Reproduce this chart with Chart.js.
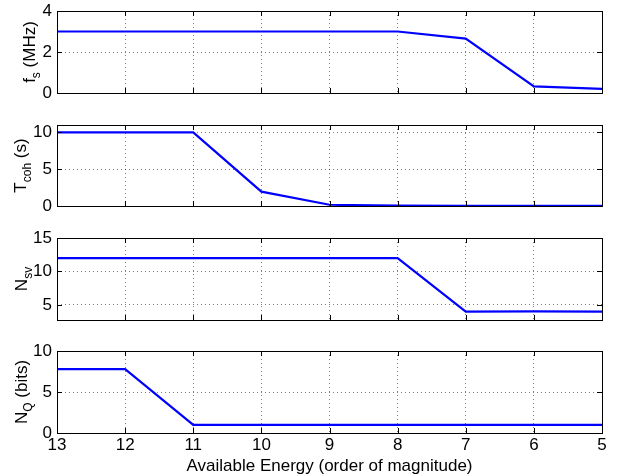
<!doctype html>
<html lang="en">
<head>
  <meta charset="utf-8">
  <title>Available Energy</title>
  <style>
    * {
      margin: 0;
      padding: 0;
    }
    body {
      background: white;
      width: 617px;
      height: 476px;
      position: relative;
      overflow: hidden;
    }
    .panel {
      position: absolute;
      left: 0;
      width: 617px;
    }
  </style>
</head>
<body>
  <div class="panel" style="top:-4px;height:112px"><canvas id="c1"></canvas></div>
  <div class="panel" style="top:110px;height:111px"><canvas id="c2"></canvas></div>
  <div class="panel" style="top:223px;height:112px"><canvas id="c3"></canvas></div>
  <div class="panel" style="top:336px;height:140px"><canvas id="c4"></canvas></div>

  <script src="https://cdn.jsdelivr.net/npm/chart.js"></script>
  <script>
    // data
    const energy = [13, 12, 11, 10, 9, 8, 7, 6, 5];
    const xTicks = [13, 12, 11, 10, 9, 8, 7, 6, 5];

    const fs = [3, 3, 3, 3, 3, 3, 2.65, 0.32, 0.2];
    const tcoh = [10, 10, 10, 1.95, 0.17, 0.05, 0.03, 0.02, 0.02];
    const nsv = [12, 12, 12, 12, 12, 12, 4, 4.05, 4];
    const nq = [7.8, 7.8, 1, 1, 1, 1, 1, 1, 1];

    const fsTicks = [0, 2, 4];
    const tcohTicks = [0, 5, 10];
    const nsvTicks = [5, 10, 15];
    const nqTicks = [0, 5, 10];

    const FONT = "'Liberation Sans', Arial, Helvetica, sans-serif";

    // y label pieces: [text, isSubscript]
    const panels = [
      { id: 'c1', values: fs, ticks: fsTicks, min: 0, max: 4, labelX: 35,
        label: [['f', false], ['s', true], [' (MHz)', false]] },
      { id: 'c2', values: tcoh, ticks: tcohTicks, min: 0, max: 11, labelX: 26,
        label: [['T', false], ['coh', true], [' (s)', false]] },
      { id: 'c3', values: nsv, ticks: nsvTicks, min: 2.75, max: 15, labelX: 27,
        label: [['N', false], ['sv', true]] },
      { id: 'c4', values: nq, ticks: nqTicks, min: 0, max: 10, labelX: 27,
        label: [['N', false], ['Q', true], [' (bits)', false]], last: true }
    ];

    // box around the axes, inward tick marks, rotated y label with subscript
    const matlabAxes = {
      id: 'matlabAxes',
      afterDraw(chart, args, opts) {
        const ctx = chart.ctx;
        const a = chart.chartArea;
        const x = chart.scales.x;
        const y = chart.scales.y;
        ctx.save();
        ctx.strokeStyle = 'black';
        ctx.lineWidth = 1;
        ctx.beginPath();
        x.ticks.forEach(t => {
          const px = Math.round(x.getPixelForValue(t.value)) + 0.5;
          ctx.moveTo(px, a.bottom); ctx.lineTo(px, a.bottom - 5);
          ctx.moveTo(px, a.top); ctx.lineTo(px, a.top + 5);
        });
        y.ticks.forEach(t => {
          const py = Math.round(y.getPixelForValue(t.value)) + 0.5;
          ctx.moveTo(a.left, py); ctx.lineTo(a.left + 5, py);
          ctx.moveTo(a.right, py); ctx.lineTo(a.right - 5, py);
        });
        ctx.stroke();
        ctx.strokeRect(Math.round(a.left) + 0.5, Math.round(a.top) + 0.5,
          Math.round(a.right - a.left), Math.round(a.bottom - a.top));

        // y label
        const big = '17px ' + FONT;
        const small = '12px ' + FONT;
        let total = 0;
        opts.label.forEach(p => {
          ctx.font = p[1] ? small : big;
          total += ctx.measureText(p[0]).width;
        });
        ctx.translate(opts.labelX, (a.top + a.bottom) / 2);
        ctx.rotate(-Math.PI / 2);
        ctx.fillStyle = 'black';
        ctx.textBaseline = 'alphabetic';
        let cx = -total / 2;
        opts.label.forEach(p => {
          ctx.font = p[1] ? small : big;
          ctx.fillText(p[0], cx, p[1] ? 5 : 0);
          cx += ctx.measureText(p[0]).width;
        });
        ctx.restore();
      }
    };

    panels.forEach(p => {
      const gridStyle = {
        display: true,
        color: 'rgba(0,0,0,0.5)',
        drawTicks: false,
        lineWidth: 1
      };
      new Chart(document.getElementById(p.id), {
        type: 'line',
        data: {
          datasets: [{
            data: energy.map((e, i) => ({ x: e, y: p.values[i] })),
            borderColor: '#0000ff',
            borderWidth: 2.2,
            pointRadius: 0,
            tension: 0,
            fill: false
          }]
        },
        options: {
          responsive: true,
          maintainAspectRatio: false,
          animation: false,
          devicePixelRatio: 1,
          layout: { padding: { top: 0, right: 15, bottom: 0, left: 0 } },
          scales: {
            x: {
              type: 'linear',
              min: 5,
              max: 13,
              reverse: true,
              afterBuildTicks: s => { s.ticks = xTicks.map(v => ({ value: v })); },
              afterFit: s => { s.height = p.last ? 43 : 0; },
              grid: gridStyle,
              border: { display: false, dash: [1, 3] },
              ticks: {
                display: !!p.last,
                color: 'black',
                padding: 2,
                maxRotation: 0,
                font: { family: FONT, size: 17, lineHeight: '20px' }
              },
              title: {
                display: !!p.last,
                text: 'Available Energy (order of magnitude)',
                color: 'black',
                padding: { top: 0, bottom: 0 },
                font: { family: FONT, size: 17, lineHeight: '20px' }
              }
            },
            y: {
              min: p.min,
              max: p.max,
              afterBuildTicks: s => { s.ticks = p.ticks.map(v => ({ value: v })); },
              afterFit: s => { s.width = 57; },
              grid: gridStyle,
              border: { display: false, dash: [1, 3] },
              ticks: {
                color: 'black',
                padding: 5,
                font: { family: FONT, size: 17, lineHeight: '20px' }
              }
            }
          },
          plugins: {
            legend: { display: false },
            tooltip: { enabled: false },
            matlabAxes: { label: p.label, labelX: p.labelX }
          }
        },
        plugins: [matlabAxes]
      });
    });
  </script>
</body>
</html>
